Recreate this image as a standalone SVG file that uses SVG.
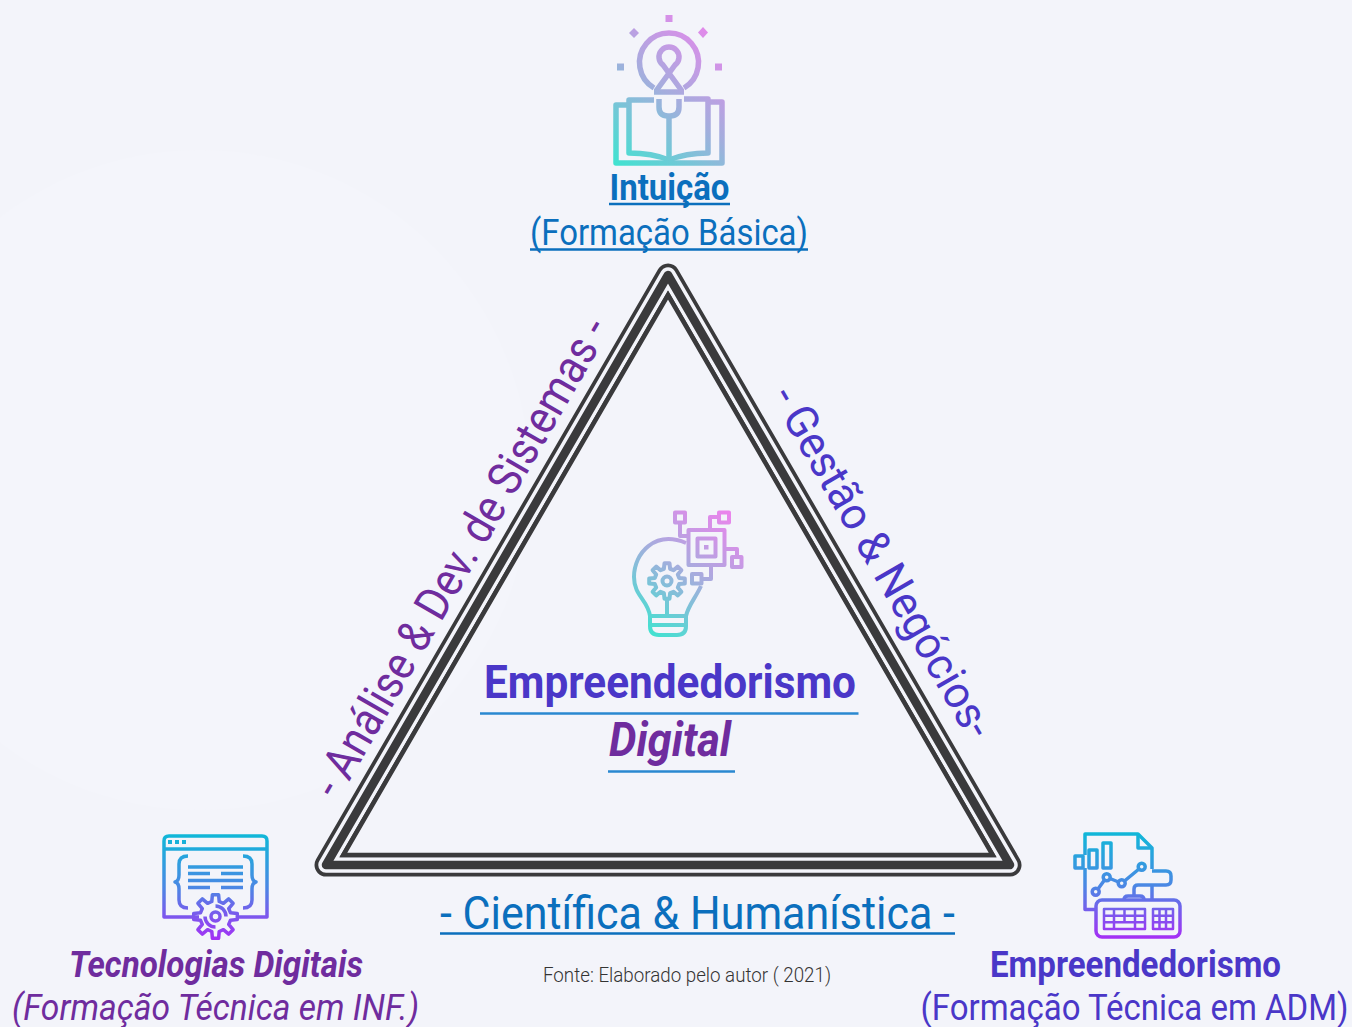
<svg xmlns="http://www.w3.org/2000/svg" width="1352" height="1027" viewBox="0 0 1352 1027">
<style>
text{font-family:"Roboto","Liberation Sans",sans-serif}
.b{font-weight:700}.i{font-style:italic}.l{font-weight:300}
.blue{fill:#0b6fbd}.ind{fill:#4a37c8}.pur{fill:#6f2c9e}
.ic{fill:none;stroke-linecap:butt;stroke-linejoin:round}
.ul{stroke-width:2.5;fill:none}
</style>
<defs>
<linearGradient id="g1" gradientUnits="userSpaceOnUse" x1="614" y1="165" x2="724" y2="30"><stop offset="0" stop-color="#3fe3d0"/><stop offset="0.5" stop-color="#a3aedd"/><stop offset="1" stop-color="#ea85ec"/></linearGradient>
<linearGradient id="g2" gradientUnits="userSpaceOnUse" x1="650" y1="636" x2="730" y2="515"><stop offset="0" stop-color="#3fe3d0"/><stop offset="0.5" stop-color="#a3aedd"/><stop offset="1" stop-color="#ea85ec"/></linearGradient>
<linearGradient id="g3" gradientUnits="userSpaceOnUse" x1="0" y1="834" x2="0" y2="940"><stop offset="0" stop-color="#0fb8d8"/><stop offset="0.5" stop-color="#4a88e4"/><stop offset="1" stop-color="#a52ff5"/></linearGradient>
<linearGradient id="g4" gradientUnits="userSpaceOnUse" x1="0" y1="832" x2="0" y2="938"><stop offset="0" stop-color="#0fb8d8"/><stop offset="0.5" stop-color="#4a88e4"/><stop offset="1" stop-color="#a52ff5"/></linearGradient>
</defs>
<rect width="1352" height="1027" fill="#f3f4fa"/>
<circle cx="200" cy="480" r="330" fill="#f4f5fb"/>

<g id="connectors">
<g id="triangle" fill="none">
<path d="M668,275L1010,865H326Z" stroke="#3a3a3c" stroke-width="23" stroke-linejoin="round"/>
<path d="M668,275L1010,865H326Z" stroke="#f3f4fa" stroke-width="15.500" stroke-linejoin="round"/>
<path d="M668,275L1010,865H326Z" stroke="#3a3a3c" stroke-width="8.500" stroke-linejoin="round"/>
<path d="M668,295L992.7,855H343.3Z" stroke="#3a3a3c" stroke-width="4.500" stroke-linejoin="miter"/>
</g>
</g>

<g id="node-intuicao">
<g class="ic" stroke="url(#g1)" stroke-width="5.500">
<path d="M654,88A29.500,29.500 0 1 1 684,88"/>
<path d="M656,91L675,65A10,10 0 1 0 663,65L682,91"/>
<path d="M654,92H684"/>
<path d="M659,99V107Q659,116 668,116H670Q679,116 679,107V99"/>
<path d="M669,116V160"/>
<path d="M628,105H616V163H722V102H710"/>
<path d="M654,100H629V153Q652,153 669,160Q686,153 708,153V99H684"/>
</g>
<g fill="url(#g1)">
<rect x="665.500" y="15" width="7" height="7"/>
<path d="M634,28L639,33L634,38L629,33Z"/>
<path d="M703,27L708,32.500L703,38L698,32.500Z"/>
<rect x="617" y="63.500" width="7" height="7"/>
<rect x="715" y="63.500" width="7" height="7"/>
</g>
<text class="b blue" x="669.500" y="200" font-size="36" text-anchor="middle" textLength="120" lengthAdjust="spacingAndGlyphs">Intuição</text>
<path class="ul" stroke="#0b6fbd" d="M609,204H730"/>
<text class="blue" x="669" y="245" font-size="37" text-anchor="middle" textLength="278" lengthAdjust="spacingAndGlyphs">(Formação Básica)</text>
<path class="ul" stroke="#0b6fbd" d="M530,249.500H808"/>
</g>

<g id="node-centro">
<g class="ic" stroke="url(#g2)" stroke-width="4">
<path d="M686,543C655,530 634,553 634,577C634,596 648,600 650,616H686C688,606 696,597 701,586"/>
<path d="M650,616V626Q650,635 659,635H677Q686,635 686,626V616M651,625H685"/>
<path d="M679.200,577.900L684.800,578.500V583.500L679.200,584.100L677.800,587.500L681.400,591.800L677.800,595.400L673.500,591.800L670.100,593.200L669.500,598.800H664.500L663.900,593.200L660.500,591.800L656.200,595.400L652.600,591.800L656.200,587.500L654.800,584.100L649.200,583.500V578.500L654.800,577.900L656.200,574.500L652.600,570.200L656.200,566.600L660.500,570.200L663.900,568.800L664.500,563.200H669.500L670.100,568.800L673.500,570.200L677.800,566.600L681.400,570.200L677.800,574.500Z"/>
<circle cx="667" cy="581" r="4.500"/>
<path d="M667,599V616"/>
<rect x="688.500" y="530" width="36" height="35"/>
<rect x="697.500" y="538.500" width="18" height="18"/>
<rect x="675" y="512.500" width="10" height="10"/>
<path d="M680,522.500V536H688"/>
<rect x="719" y="512.500" width="10" height="10"/>
<path d="M719,517H710V530"/>
<path d="M724.500,549H737V557"/>
<rect x="732" y="557" width="9.500" height="10"/>
<rect x="692" y="574" width="9.500" height="9.500"/>
<path d="M701.500,579H711V565"/>
</g>
<rect x="704" y="545" width="4.500" height="4.500" fill="url(#g2)"/>
<text class="b ind" x="670" y="698" font-size="47" text-anchor="middle" textLength="372" lengthAdjust="spacingAndGlyphs">Empreendedorismo</text>
<path class="ul" stroke="#2a88d0" d="M480,713.500H858.500"/>
<text class="b i pur" x="670" y="756" font-size="48" text-anchor="middle" textLength="122" lengthAdjust="spacingAndGlyphs">Digital</text>
<path class="ul" stroke="#2a88d0" d="M608,771.500H735"/>
</g>

<g id="node-tecnologias">
<g class="ic" stroke="url(#g3)" stroke-width="3.500">
<path d="M199,917H164V841Q164,836 169,836H262Q267,836 267,841V917H236"/>
<path d="M164,849H267"/>
<path d="M188,856Q179,856 179,864V875Q179,881 175,882Q179,883 179,889V900Q179,908 188,908"/>
<path d="M243,856Q252,856 252,864V875Q252,881 256,882Q252,883 252,889V900Q252,908 243,908"/>
<path d="M188,867H243M188,873.500H210M221,873.500H243M188,880.500H243M188,887.500H210M221,887.500H243"/>
<path d="M230.500,912.800L237.300,913.400V919.600L230.500,920.200L228.700,924.400L233.100,929.700L228.700,934.100L223.400,929.700L219.200,931.500L218.600,938.300H212.400L211.800,931.500L207.600,929.700L202.300,934.100L197.900,929.700L202.300,924.400L200.500,920.200L193.700,919.600V913.400L200.500,912.800L202.300,908.600L197.900,903.300L202.300,898.900L207.600,903.300L211.800,901.500L212.400,894.700H218.600L219.200,901.500L223.400,903.300L228.700,898.900L233.100,903.300L228.700,908.600Z"/>
<circle cx="215.500" cy="916.500" r="4.500"/>
<path d="M215.500,906A10.500,10.500 0 0 1 226,916.500M215.500,927A10.500,10.500 0 0 1 205,916.500"/>
</g>
<g fill="url(#g3)">
<rect x="168" y="840" width="4" height="4"/><rect x="175" y="840" width="4" height="4"/><rect x="182" y="840" width="4" height="4"/>
</g>
<text class="b i pur" x="216" y="977" font-size="36" text-anchor="middle" textLength="294" lengthAdjust="spacingAndGlyphs">Tecnologias Digitais</text>
<text class="i pur" x="215.500" y="1019.500" font-size="37" text-anchor="middle" textLength="407" lengthAdjust="spacingAndGlyphs">(Formação Técnica em INF.)</text>
</g>

<g id="node-empreendedorismo">
<g class="ic" stroke="url(#g4)" stroke-width="3.500">
<path d="M1085,855V834H1138L1152,848V869M1152,884V899"/>
<path d="M1085,868V909.500H1096"/>
<path d="M1138,834V848H1152"/>
<path d="M1152,871H1166Q1171,871 1171,876V880Q1171,885 1166,885H1138Q1134,885 1134,889V896"/>
<path d="M1124,900Q1124,896 1128,896H1140Q1144,896 1144,900"/>
<rect x="1096" y="900" width="84" height="37" rx="6"/>
<rect x="1075" y="856" width="8" height="12"/><rect x="1089" y="850" width="8" height="18"/><rect x="1103" y="843" width="8" height="25"/>
<circle cx="1095.700" cy="891.700" r="3.500"/><circle cx="1106.700" cy="877.300" r="3.500"/><circle cx="1121.700" cy="883.300" r="3.500"/><circle cx="1141.700" cy="866.700" r="3.500"/>
<path d="M1098,889L1104.500,880M1110,878.500L1118.500,882M1124.500,881L1139,869"/>
<g stroke-width="2.500">
<rect x="1104" y="909" width="41" height="20"/><rect x="1153" y="909" width="20" height="20"/>
<path d="M1104,915.700H1145M1104,922.300H1145M1153,915.700H1173M1153,922.300H1173"/>
<path d="M1114,909V922M1124.500,909V922M1135,909V929M1114,922V929M1159.500,909V929M1166,909V929"/>
</g>
</g>
<text class="b ind" x="1135.500" y="977" font-size="36" text-anchor="middle" textLength="291" lengthAdjust="spacingAndGlyphs">Empreendedorismo</text>
<text class="ind" transform="translate(920.500,1019.500) scale(0.9,1)" font-size="37" textLength="475.500" lengthAdjust="spacingAndGlyphs">(Formação Técnica em ADM)</text>
</g>

<g id="labels">
<text class="pur" transform="translate(338,801) rotate(-60)" font-size="47" textLength="545" lengthAdjust="spacingAndGlyphs">- Análise &amp; Dev. de Sistemas -</text>
<text class="ind" transform="translate(770,397) rotate(60)" font-size="45" textLength="398" lengthAdjust="spacingAndGlyphs">- Gestão &amp; Negócios-</text>
<text x="440" y="929" font-size="47" fill="#0b6fbd" textLength="515" lengthAdjust="spacingAndGlyphs">- Científica &amp; Humanística -</text>
<path class="ul" stroke="#0b6fbd" d="M440,933.500H955"/>
<text class="l" x="543" y="982" font-size="21" fill="#333" textLength="288" lengthAdjust="spacingAndGlyphs">Fonte: Elaborado pelo autor ( 2021)</text>
</g>
</svg>
